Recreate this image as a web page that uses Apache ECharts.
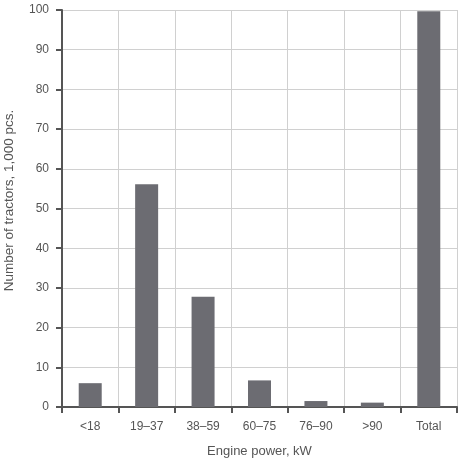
<!DOCTYPE html>
<html><head><meta charset="utf-8">
<script src="https://cdn.jsdelivr.net/npm/echarts@6/dist/echarts.min.js"></script>
<style>html,body{margin:0;padding:0;background:#fff}#c{width:460px;height:460px}</style>
</head><body><div id="c"></div>
<script>
const categories = ['<18','19–37','38–59','60–75','76–90','>90','Total'];
const values = [6.0, 56.1, 27.8, 6.7, 1.5, 1.1, 99.7];
const yTicks = {min: 0, max: 100, interval: 10};

const chart = echarts.init(document.getElementById('c'));
const font = 'Liberation Sans, Arial, sans-serif';
chart.setOption({
  animation: false,
  grid: {left: 62, right: 3, top: 10, bottom: 53, containLabel: false, outerBoundsMode: 'none'},
  xAxis: {
    type: 'category', data: categories,
    name: 'Engine power, kW', nameLocation: 'middle', nameGap: 38,
    nameTextStyle: {fontFamily: font, fontSize: 13, color: '#555'},
    axisLine: {lineStyle: {color: '#555', width: 2}},
    axisTick: {show: true, length: 6, lineStyle: {color: '#555', width: 2}},
    axisLabel: {fontFamily: font, fontSize: 12, color: '#555', margin: 14},
    splitLine: {show: true, lineStyle: {color: '#d0d0d0', width: 1}}
  },
  yAxis: {
    type: 'value', min: yTicks.min, max: yTicks.max, interval: yTicks.interval,
    name: 'Number of tractors, 1,000 pcs.', nameLocation: 'middle', nameGap: 46,
    nameTextStyle: {fontFamily: font, fontSize: 13.5, color: '#555', padding: [0, 0, 0, 16]},
    axisLine: {show: true, lineStyle: {color: '#555', width: 2}},
    axisTick: {show: true, length: 6, lineStyle: {color: '#555', width: 2}},
    axisLabel: {fontFamily: font, fontSize: 12, color: '#555', margin: 13},
    splitLine: {show: true, lineStyle: {color: '#d0d0d0', width: 1}}
  },
  series: [{
    type: 'bar', data: values, barWidth: 23,
    itemStyle: {color: '#6c6c72'}
  }]
});
</script></body></html>
